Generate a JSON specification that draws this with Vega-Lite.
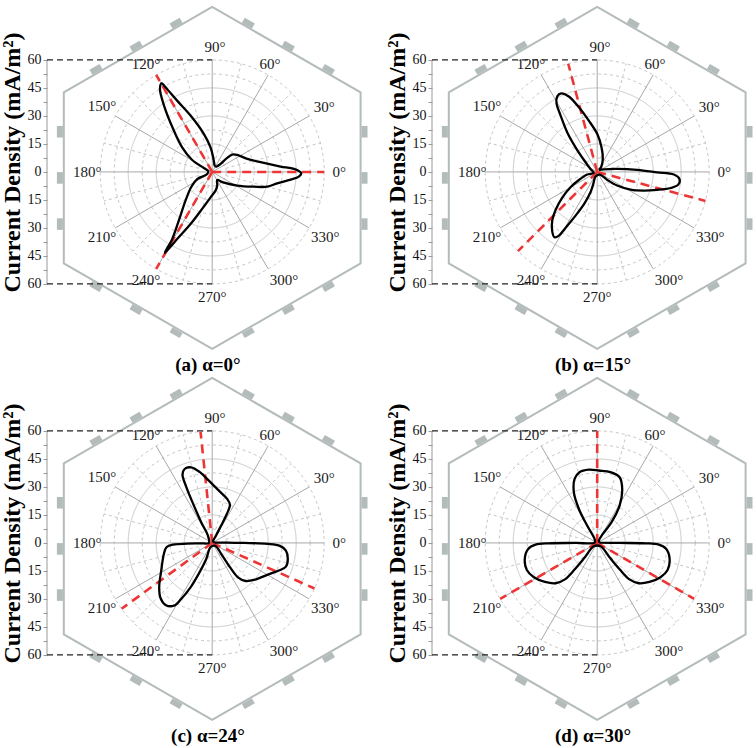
{
"$schema":"https://vega.github.io/schema/vega-lite/v6.json",
"padding":{"left":0,"top":2,"right":0,"bottom":0},
"background":"white",
"datasets":{
"hex":[{"i":0,"x":-79.5,"y":-3.2},{"i":1,"x":-79.5,"y":42.6},{"i":2,"x":0,"y":88.4},{"i":3,"x":79.5,"y":42.6},{"i":4,"x":79.5,"y":-49},{"i":5,"x":0,"y":-94.8},{"i":6,"x":-79.5,"y":-49},{"i":7,"x":-79.5,"y":-3.2}],
"elec":[{"x":16.64,"y":81.24,"x2":22.02,"y2":78.14},{"x":38.11,"y":68.87,"x2":43.49,"y2":65.77},{"x":59.58,"y":56.5,"x2":64.96,"y2":53.4},
{"x":81.6,"y":24.63,"x2":81.6,"y2":18.43},{"x":81.6,"y":-0.1,"x2":81.6,"y2":-6.3},{"x":81.6,"y":-24.83,"x2":81.6,"y2":-31.03},
{"x":64.96,"y":-59.8,"x2":59.58,"y2":-62.9},{"x":43.49,"y":-72.17,"x2":38.11,"y2":-75.27},{"x":22.02,"y":-84.54,"x2":16.64,"y2":-87.64},
{"x":-64.96,"y":-59.8,"x2":-59.58,"y2":-62.9},{"x":-43.49,"y":-72.17,"x2":-38.11,"y2":-75.27},{"x":-22.02,"y":-84.54,"x2":-16.64,"y2":-87.64},
{"x":-81.6,"y":24.63,"x2":-81.6,"y2":18.43},{"x":-81.6,"y":-0.1,"x2":-81.6,"y2":-6.3},{"x":-81.6,"y":-24.83,"x2":-81.6,"y2":-31.03},
{"x":-16.64,"y":81.24,"x2":-22.02,"y2":78.14},{"x":-38.11,"y":68.87,"x2":-43.49,"y2":65.77},{"x":-59.58,"y":56.5,"x2":-64.96,"y2":53.4}],
"circles":[{"x":0,"y":0,"r":7.5,"k":"d"},{"x":0,"y":0,"r":15,"k":"s"},{"x":0,"y":0,"r":22.5,"k":"d"},{"x":0,"y":0,"r":30,"k":"s"},{"x":0,"y":0,"r":37.5,"k":"d"},{"x":0,"y":0,"r":45,"k":"s"},{"x":0,"y":0,"r":52.5,"k":"d"},{"x":0,"y":0,"r":60,"k":"d"}],
"spokes":[{"x":60,"y":0,"x2":-60,"y2":0},{"x":51.96,"y":30,"x2":-51.96,"y2":-30},{"x":30,"y":51.96,"x2":-30,"y2":-51.96},{"x":0,"y":60,"x2":0,"y2":-60},{"x":-30,"y":51.96,"x2":30,"y2":-51.96},{"x":-51.96,"y":30,"x2":51.96,"y2":-30}],
"minor":[{"x":7.24,"y":1.94,"x2":57.96,"y2":15.53},{"x":5.3,"y":5.3,"x2":42.43,"y2":42.43},{"x":1.94,"y":7.24,"x2":15.53,"y2":57.96},{"x":-1.94,"y":7.24,"x2":-15.53,"y2":57.96},{"x":-5.3,"y":5.3,"x2":-42.43,"y2":42.43},{"x":-7.24,"y":1.94,"x2":-57.96,"y2":15.53},{"x":-7.24,"y":-1.94,"x2":-57.96,"y2":-15.53},{"x":-5.3,"y":-5.3,"x2":-42.43,"y2":-42.43},{"x":-1.94,"y":-7.24,"x2":-15.53,"y2":-57.96},{"x":1.94,"y":-7.24,"x2":15.53,"y2":-57.96},{"x":5.3,"y":-5.3,"x2":42.43,"y2":-42.43},{"x":7.24,"y":-1.94,"x2":57.96,"y2":-15.53}],
"axisline":[{"x":-88.5,"y":-60,"x2":-88.5,"y2":60}],
"dash":[{"x":-88.5,"y":60,"x2":0,"y2":60},{"x":-88.5,"y":-60,"x2":0,"y2":-60}],
"angles":[{"t":"0°","x":68,"y":0},{"t":"30°","x":60,"y":35},{"t":"60°","x":31,"y":58},{"t":"90°","x":1.5,"y":67},{"t":"120°","x":-35.5,"y":58},{"t":"150°","x":-59,"y":35.5},{"t":"180°","x":-67,"y":0},{"t":"210°","x":-59,"y":-35},{"t":"240°","x":-35.5,"y":-58},{"t":"270°","x":0,"y":-67},{"t":"300°","x":38.5,"y":-58},{"t":"330°","x":60.5,"y":-35}],
"red":[{"p":"a","x":0,"y":0,"x2":60,"y2":0},{"p":"a","x":0,"y":0,"x2":-30,"y2":51.96},{"p":"a","x":0,"y":0,"x2":-30,"y2":-51.96},
{"p":"b","x":0,"y":0,"x2":-15.53,"y2":57.96},{"p":"b","x":0,"y":0,"x2":-42.43,"y2":-42.43},{"p":"b","x":0,"y":0,"x2":57.96,"y2":-15.53},
{"p":"c","x":0,"y":0,"x2":-6.27,"y2":59.67},{"p":"c","x":0,"y":0,"x2":-48.54,"y2":-35.27},{"p":"c","x":0,"y":0,"x2":54.81,"y2":-24.4},
{"p":"d","x":0,"y":0,"x2":0,"y2":60},{"p":"d","x":0,"y":0,"x2":-51.96,"y2":-30},{"p":"d","x":0,"y":0,"x2":51.96,"y2":-30}],
"ca":[{"i":0,"x":1.3,"y":3.2},{"i":1,"x":0.5,"y":7.9},{"i":2,"x":-0.9,"y":13.2},{"i":3,"x":-4.5,"y":20.4},{"i":4,"x":-11.6,"y":30.2},{"i":5,"x":-18.8,"y":38.2},{"i":6,"x":-25,"y":45.4},{"i":7,"x":-27.1,"y":47.5},{"i":8,"x":-28,"y":44.5},{"i":9,"x":-25.5,"y":34.6},{"i":10,"x":-20.9,"y":23},{"i":11,"x":-16.1,"y":13.2},{"i":12,"x":-10.7,"y":6.4},{"i":13,"x":-4.5,"y":2.1},{"i":14,"x":-2.1,"y":0.4},{"i":15,"x":-3,"y":-1.4},{"i":16,"x":-8,"y":-3.8},{"i":17,"x":-11.3,"y":-8.2},{"i":18,"x":-14.3,"y":-15.4},{"i":19,"x":-17.9,"y":-26.1},{"i":20,"x":-21.4,"y":-35.9},{"i":21,"x":-25.4,"y":-43.4},{"i":22,"x":-18.8,"y":-35.9},{"i":23,"x":-11.6,"y":-27.9},{"i":24,"x":-5.4,"y":-19.8},{"i":25,"x":-0.9,"y":-13.6},{"i":26,"x":1.8,"y":-10},{"i":27,"x":2.7,"y":-7.3},{"i":28,"x":2.7,"y":-4.3},{"i":29,"x":5.4,"y":-5.5},{"i":30,"x":13.4,"y":-7.3},{"i":31,"x":22.3,"y":-7.9},{"i":32,"x":29.5,"y":-7.9},{"i":33,"x":34.8,"y":-6.1},{"i":34,"x":42,"y":-4.1},{"i":35,"x":46.4,"y":-2.5},{"i":36,"x":47.7,"y":-0.7},{"i":37,"x":43.8,"y":1.6},{"i":38,"x":36.6,"y":2.9},{"i":39,"x":25.9,"y":5.2},{"i":40,"x":18.8,"y":7},{"i":41,"x":13.4,"y":9.1},{"i":42,"x":10.7,"y":9.3},{"i":43,"x":8,"y":7.5},{"i":44,"x":4.5,"y":4.3},{"i":45,"x":2.3,"y":2.9},{"i":46,"x":1.3,"y":3.2}],
"cb":[{"i":0,"x":0.9,"y":1.1},{"i":1,"x":3.6,"y":1.4},{"i":2,"x":10.7,"y":1.6},{"i":3,"x":21.4,"y":1.1},{"i":4,"x":32.1,"y":-0.2},{"i":5,"x":41.1,"y":-1.4},{"i":6,"x":44.1,"y":-3.8},{"i":7,"x":43.4,"y":-6.8},{"i":8,"x":39.3,"y":-8.6},{"i":9,"x":32.1,"y":-9.6},{"i":10,"x":25,"y":-10},{"i":11,"x":17.9,"y":-9.5},{"i":12,"x":10.7,"y":-7.3},{"i":13,"x":5.4,"y":-4.3},{"i":14,"x":1.4,"y":-1.4},{"i":15,"x":-0.9,"y":-2.5},{"i":16,"x":-2.1,"y":-6.4},{"i":17,"x":-3.6,"y":-10.9},{"i":18,"x":-6.8,"y":-16.8},{"i":19,"x":-11.6,"y":-23.4},{"i":20,"x":-17,"y":-30},{"i":21,"x":-20.5,"y":-34.1},{"i":22,"x":-22.9,"y":-35},{"i":23,"x":-24.1,"y":-31.8},{"i":24,"x":-24.1,"y":-26.1},{"i":25,"x":-22.3,"y":-20.4},{"i":26,"x":-18.8,"y":-13.9},{"i":27,"x":-14.3,"y":-8.2},{"i":28,"x":-9.8,"y":-4.3},{"i":29,"x":-5.4,"y":-1.4},{"i":30,"x":-1.8,"y":-0.5},{"i":31,"x":-3.6,"y":1.6},{"i":32,"x":-7.1,"y":6.4},{"i":33,"x":-11.6,"y":13.2},{"i":34,"x":-16.1,"y":21.3},{"i":35,"x":-19.6,"y":30.2},{"i":36,"x":-21.8,"y":36.8},{"i":37,"x":-21.4,"y":40.5},{"i":38,"x":-19.3,"y":42.1},{"i":39,"x":-15.2,"y":40.4},{"i":40,"x":-9.8,"y":34.6},{"i":41,"x":-4.5,"y":27.5},{"i":42,"x":0,"y":20.4},{"i":43,"x":2.3,"y":13.2},{"i":44,"x":3,"y":7},{"i":45,"x":2.1,"y":2.5},{"i":46,"x":0.9,"y":1.1}],
"cc":[{"i":0,"x":1.3,"y":0.2},{"i":1,"x":8,"y":0.2},{"i":2,"x":17,"y":0},{"i":3,"x":29.5,"y":-0.5},{"i":4,"x":36.3,"y":-1.6},{"i":5,"x":39.5,"y":-4.1},{"i":6,"x":40.5,"y":-8.6},{"i":7,"x":39.5,"y":-12.7},{"i":8,"x":35.7,"y":-14.8},{"i":9,"x":29.5,"y":-17.1},{"i":10,"x":23.2,"y":-19.6},{"i":11,"x":17.9,"y":-20.4},{"i":12,"x":13.8,"y":-18.4},{"i":13,"x":9.8,"y":-13.4},{"i":14,"x":5.4,"y":-6.8},{"i":15,"x":1.6,"y":-1.6},{"i":16,"x":-0.9,"y":-2.3},{"i":17,"x":-3.2,"y":-8.6},{"i":18,"x":-7.1,"y":-16.3},{"i":19,"x":-11.6,"y":-23.8},{"i":20,"x":-16.6,"y":-30},{"i":21,"x":-20.5,"y":-33.6},{"i":22,"x":-25,"y":-33.2},{"i":23,"x":-27.7,"y":-29.5},{"i":24,"x":-28.4,"y":-23.8},{"i":25,"x":-27.3,"y":-14.8},{"i":26,"x":-25.9,"y":-5.9},{"i":27,"x":-24.5,"y":-2.3},{"i":28,"x":-20.9,"y":-0.9},{"i":29,"x":-13.4,"y":-0.4},{"i":30,"x":-6.3,"y":-0.2},{"i":31,"x":-1.8,"y":0},{"i":32,"x":-2.3,"y":3.9},{"i":33,"x":-5.9,"y":11.1},{"i":34,"x":-9.8,"y":20},{"i":35,"x":-13.8,"y":29.8},{"i":36,"x":-15.9,"y":36.6},{"i":37,"x":-14.8,"y":39.6},{"i":38,"x":-11.3,"y":40.5},{"i":39,"x":-6.6,"y":37.9},{"i":40,"x":-1.8,"y":33.4},{"i":41,"x":3.6,"y":28},{"i":42,"x":8,"y":23.6},{"i":43,"x":9.5,"y":20.5},{"i":44,"x":7.7,"y":15.2},{"i":45,"x":4.8,"y":9.3},{"i":46,"x":2,"y":3.9},{"i":47,"x":0.5,"y":0.9},{"i":48,"x":1.3,"y":0.2}],
"cd":[{"i":0,"x":1.3,"y":0.2},{"i":1,"x":11.6,"y":0},{"i":2,"x":25.9,"y":-0.2},{"i":3,"x":33,"y":-0.9},{"i":4,"x":37,"y":-3.2},{"i":5,"x":38.8,"y":-8.6},{"i":6,"x":37.7,"y":-14.5},{"i":7,"x":33.9,"y":-18.4},{"i":8,"x":28,"y":-20.9},{"i":9,"x":22.3,"y":-21.6},{"i":10,"x":17.3,"y":-19.5},{"i":11,"x":12,"y":-14.1},{"i":12,"x":6.6,"y":-7.7},{"i":13,"x":1.8,"y":-1.8},{"i":14,"x":-1.8,"y":-1.8},{"i":15,"x":-6.6,"y":-7.7},{"i":16,"x":-12,"y":-14.1},{"i":17,"x":-17.3,"y":-19.5},{"i":18,"x":-22.3,"y":-21.6},{"i":19,"x":-28,"y":-20.9},{"i":20,"x":-33.9,"y":-18.4},{"i":21,"x":-37.7,"y":-14.5},{"i":22,"x":-38.8,"y":-8.6},{"i":23,"x":-37,"y":-3.2},{"i":24,"x":-33,"y":-0.9},{"i":25,"x":-25.9,"y":-0.2},{"i":26,"x":-11.6,"y":0},{"i":27,"x":-1.3,"y":0.2},{"i":28,"x":-1.4,"y":2.1},{"i":29,"x":-5.4,"y":9.3},{"i":30,"x":-9.8,"y":18.2},{"i":31,"x":-12.5,"y":27.1},{"i":32,"x":-12.1,"y":34.3},{"i":33,"x":-9.5,"y":37.9},{"i":34,"x":-4.5,"y":39.3},{"i":35,"x":0.9,"y":38.8},{"i":36,"x":7.1,"y":37.9},{"i":37,"x":12,"y":35.2},{"i":38,"x":13.4,"y":28.9},{"i":39,"x":12,"y":20},{"i":40,"x":7.7,"y":11.1},{"i":41,"x":3,"y":4.8},{"i":42,"x":0.9,"y":1.3},{"i":43,"x":1.3,"y":0.2}]
},
"columns":2,
"spacing":{"row":27,"column":63},
"bounds":"flush",
"concat":[
{"width":322,"height":344,"title":{"text":"(a) α=0°","orient":"bottom","offset":3},
"encoding":{"x":{"field":"x","type":"quantitative","scale":{"domain":[-88.5,84],"nice":false,"zero":false},"axis":null},"y":{"field":"y","type":"quantitative","scale":{"domain":[-95.4,88.9],"nice":false,"zero":false},"axis":{"values":[-60,-52.5,-45,-37.5,-30,-22.5,-15,-7.5,0,7.5,15,22.5,30,37.5,45,52.5,60],"labelExpr":"datum.value % 15 === 0 ? format(abs(datum.value), 'd') : ''","tickSize":4,"tickColor":"#999999","domain":false,"grid":false,"labelOverlap":false,"labelFont":"Liberation Serif","labelFontSize":14,"labelColor":"#111111","labelPadding":2,"title":"Current Density (mA/m²)","titleFont":"Liberation Serif","titleFontSize":24,"titleFontWeight":"bold","titleColor":"#000000","titlePadding":3,"titleY":156}}},
"layer":[
{"data":{"name":"circles"},"mark":{"type":"point","shape":"circle","filled":false,"stroke":"#c6c6c6","strokeWidth":1,"opacity":1},"encoding":{"size":{"field":"r","type":"quantitative","scale":{"type":"pow","exponent":2,"domain":[0,60],"range":[0,50176],"zero":true},"legend":null},"strokeDash":{"field":"k","type":"nominal","scale":{"domain":["s","d"],"range":[[1,0],[3,3]]},"legend":null}}},
{"data":{"name":"minor"},"mark":{"type":"rule","stroke":"#c6c6c6","strokeWidth":1,"strokeDash":[3,3]},"encoding":{"x2":{"field":"x2"},"y2":{"field":"y2"}}},
{"data":{"name":"spokes"},"mark":{"type":"rule","stroke":"#a8a8a8","strokeWidth":1},"encoding":{"x2":{"field":"x2"},"y2":{"field":"y2"}}},
{"data":{"name":"hex"},"mark":{"type":"line","stroke":"#b3bbbb","strokeWidth":2},"encoding":{"order":{"field":"i"}}},
{"data":{"name":"elec"},"mark":{"type":"rule","stroke":"#b3bbbb","strokeWidth":6},"encoding":{"x2":{"field":"x2"},"y2":{"field":"y2"}}},
{"data":{"name":"axisline"},"mark":{"type":"rule","stroke":"#999999","strokeWidth":1},"encoding":{"x2":{"field":"x2"},"y2":{"field":"y2"}}},
{"data":{"name":"dash"},"mark":{"type":"rule","stroke":"#222222","strokeWidth":1.3,"strokeDash":[6,4]},"encoding":{"x2":{"field":"x2"},"y2":{"field":"y2"}}},
{"data":{"name":"angles"},"mark":{"type":"text","font":"Liberation Serif","fontSize":15,"color":"#1a1a1a","align":"center","baseline":"middle"},"encoding":{"text":{"field":"t"}}},
{"data":{"name":"red"},"transform":[{"filter":"datum.p == 'a'"}],"mark":{"type":"rule","stroke":"#ee3535","strokeWidth":2.6,"strokeDash":[9,6]},"encoding":{"x2":{"field":"x2"},"y2":{"field":"y2"}}},
{"data":{"name":"ca"},"mark":{"type":"line","stroke":"#000000","strokeWidth":2.3,"interpolate":"catmull-rom"},"encoding":{"order":{"field":"i"}}}
]},
{"width":322,"height":344,"title":{"text":"(b) α=15°","orient":"bottom","offset":3},
"encoding":{"x":{"field":"x","type":"quantitative","scale":{"domain":[-88.5,84],"nice":false,"zero":false},"axis":null},"y":{"field":"y","type":"quantitative","scale":{"domain":[-95.4,88.9],"nice":false,"zero":false},"axis":{"values":[-60,-52.5,-45,-37.5,-30,-22.5,-15,-7.5,0,7.5,15,22.5,30,37.5,45,52.5,60],"labelExpr":"datum.value % 15 === 0 ? format(abs(datum.value), 'd') : ''","tickSize":4,"tickColor":"#999999","domain":false,"grid":false,"labelOverlap":false,"labelFont":"Liberation Serif","labelFontSize":14,"labelColor":"#111111","labelPadding":2,"title":"Current Density (mA/m²)","titleFont":"Liberation Serif","titleFontSize":24,"titleFontWeight":"bold","titleColor":"#000000","titlePadding":3,"titleY":156}}},
"layer":[
{"data":{"name":"circles"},"mark":{"type":"point","shape":"circle","filled":false,"stroke":"#c6c6c6","strokeWidth":1,"opacity":1},"encoding":{"size":{"field":"r","type":"quantitative","scale":{"type":"pow","exponent":2,"domain":[0,60],"range":[0,50176],"zero":true},"legend":null},"strokeDash":{"field":"k","type":"nominal","scale":{"domain":["s","d"],"range":[[1,0],[3,3]]},"legend":null}}},
{"data":{"name":"minor"},"mark":{"type":"rule","stroke":"#c6c6c6","strokeWidth":1,"strokeDash":[3,3]},"encoding":{"x2":{"field":"x2"},"y2":{"field":"y2"}}},
{"data":{"name":"spokes"},"mark":{"type":"rule","stroke":"#a8a8a8","strokeWidth":1},"encoding":{"x2":{"field":"x2"},"y2":{"field":"y2"}}},
{"data":{"name":"hex"},"mark":{"type":"line","stroke":"#b3bbbb","strokeWidth":2},"encoding":{"order":{"field":"i"}}},
{"data":{"name":"elec"},"mark":{"type":"rule","stroke":"#b3bbbb","strokeWidth":6},"encoding":{"x2":{"field":"x2"},"y2":{"field":"y2"}}},
{"data":{"name":"axisline"},"mark":{"type":"rule","stroke":"#999999","strokeWidth":1},"encoding":{"x2":{"field":"x2"},"y2":{"field":"y2"}}},
{"data":{"name":"dash"},"mark":{"type":"rule","stroke":"#222222","strokeWidth":1.3,"strokeDash":[6,4]},"encoding":{"x2":{"field":"x2"},"y2":{"field":"y2"}}},
{"data":{"name":"angles"},"mark":{"type":"text","font":"Liberation Serif","fontSize":15,"color":"#1a1a1a","align":"center","baseline":"middle"},"encoding":{"text":{"field":"t"}}},
{"data":{"name":"red"},"transform":[{"filter":"datum.p == 'b'"}],"mark":{"type":"rule","stroke":"#ee3535","strokeWidth":2.6,"strokeDash":[9,6]},"encoding":{"x2":{"field":"x2"},"y2":{"field":"y2"}}},
{"data":{"name":"cb"},"mark":{"type":"line","stroke":"#000000","strokeWidth":2.3,"interpolate":"catmull-rom"},"encoding":{"order":{"field":"i"}}}
]},
{"width":322,"height":344,"title":{"text":"(c) α=24°","orient":"bottom","offset":3},
"encoding":{"x":{"field":"x","type":"quantitative","scale":{"domain":[-88.5,84],"nice":false,"zero":false},"axis":null},"y":{"field":"y","type":"quantitative","scale":{"domain":[-95.4,88.9],"nice":false,"zero":false},"axis":{"values":[-60,-52.5,-45,-37.5,-30,-22.5,-15,-7.5,0,7.5,15,22.5,30,37.5,45,52.5,60],"labelExpr":"datum.value % 15 === 0 ? format(abs(datum.value), 'd') : ''","tickSize":4,"tickColor":"#999999","domain":false,"grid":false,"labelOverlap":false,"labelFont":"Liberation Serif","labelFontSize":14,"labelColor":"#111111","labelPadding":2,"title":"Current Density (mA/m²)","titleFont":"Liberation Serif","titleFontSize":24,"titleFontWeight":"bold","titleColor":"#000000","titlePadding":3,"titleY":156}}},
"layer":[
{"data":{"name":"circles"},"mark":{"type":"point","shape":"circle","filled":false,"stroke":"#c6c6c6","strokeWidth":1,"opacity":1},"encoding":{"size":{"field":"r","type":"quantitative","scale":{"type":"pow","exponent":2,"domain":[0,60],"range":[0,50176],"zero":true},"legend":null},"strokeDash":{"field":"k","type":"nominal","scale":{"domain":["s","d"],"range":[[1,0],[3,3]]},"legend":null}}},
{"data":{"name":"minor"},"mark":{"type":"rule","stroke":"#c6c6c6","strokeWidth":1,"strokeDash":[3,3]},"encoding":{"x2":{"field":"x2"},"y2":{"field":"y2"}}},
{"data":{"name":"spokes"},"mark":{"type":"rule","stroke":"#a8a8a8","strokeWidth":1},"encoding":{"x2":{"field":"x2"},"y2":{"field":"y2"}}},
{"data":{"name":"hex"},"mark":{"type":"line","stroke":"#b3bbbb","strokeWidth":2},"encoding":{"order":{"field":"i"}}},
{"data":{"name":"elec"},"mark":{"type":"rule","stroke":"#b3bbbb","strokeWidth":6},"encoding":{"x2":{"field":"x2"},"y2":{"field":"y2"}}},
{"data":{"name":"axisline"},"mark":{"type":"rule","stroke":"#999999","strokeWidth":1},"encoding":{"x2":{"field":"x2"},"y2":{"field":"y2"}}},
{"data":{"name":"dash"},"mark":{"type":"rule","stroke":"#222222","strokeWidth":1.3,"strokeDash":[6,4]},"encoding":{"x2":{"field":"x2"},"y2":{"field":"y2"}}},
{"data":{"name":"angles"},"mark":{"type":"text","font":"Liberation Serif","fontSize":15,"color":"#1a1a1a","align":"center","baseline":"middle"},"encoding":{"text":{"field":"t"}}},
{"data":{"name":"red"},"transform":[{"filter":"datum.p == 'c'"}],"mark":{"type":"rule","stroke":"#ee3535","strokeWidth":2.6,"strokeDash":[9,6]},"encoding":{"x2":{"field":"x2"},"y2":{"field":"y2"}}},
{"data":{"name":"cc"},"mark":{"type":"line","stroke":"#000000","strokeWidth":2.3,"interpolate":"catmull-rom"},"encoding":{"order":{"field":"i"}}}
]},
{"width":322,"height":344,"title":{"text":"(d) α=30°","orient":"bottom","offset":3},
"encoding":{"x":{"field":"x","type":"quantitative","scale":{"domain":[-88.5,84],"nice":false,"zero":false},"axis":null},"y":{"field":"y","type":"quantitative","scale":{"domain":[-95.4,88.9],"nice":false,"zero":false},"axis":{"values":[-60,-52.5,-45,-37.5,-30,-22.5,-15,-7.5,0,7.5,15,22.5,30,37.5,45,52.5,60],"labelExpr":"datum.value % 15 === 0 ? format(abs(datum.value), 'd') : ''","tickSize":4,"tickColor":"#999999","domain":false,"grid":false,"labelOverlap":false,"labelFont":"Liberation Serif","labelFontSize":14,"labelColor":"#111111","labelPadding":2,"title":"Current Density (mA/m²)","titleFont":"Liberation Serif","titleFontSize":24,"titleFontWeight":"bold","titleColor":"#000000","titlePadding":3,"titleY":156}}},
"layer":[
{"data":{"name":"circles"},"mark":{"type":"point","shape":"circle","filled":false,"stroke":"#c6c6c6","strokeWidth":1,"opacity":1},"encoding":{"size":{"field":"r","type":"quantitative","scale":{"type":"pow","exponent":2,"domain":[0,60],"range":[0,50176],"zero":true},"legend":null},"strokeDash":{"field":"k","type":"nominal","scale":{"domain":["s","d"],"range":[[1,0],[3,3]]},"legend":null}}},
{"data":{"name":"minor"},"mark":{"type":"rule","stroke":"#c6c6c6","strokeWidth":1,"strokeDash":[3,3]},"encoding":{"x2":{"field":"x2"},"y2":{"field":"y2"}}},
{"data":{"name":"spokes"},"mark":{"type":"rule","stroke":"#a8a8a8","strokeWidth":1},"encoding":{"x2":{"field":"x2"},"y2":{"field":"y2"}}},
{"data":{"name":"hex"},"mark":{"type":"line","stroke":"#b3bbbb","strokeWidth":2},"encoding":{"order":{"field":"i"}}},
{"data":{"name":"elec"},"mark":{"type":"rule","stroke":"#b3bbbb","strokeWidth":6},"encoding":{"x2":{"field":"x2"},"y2":{"field":"y2"}}},
{"data":{"name":"axisline"},"mark":{"type":"rule","stroke":"#999999","strokeWidth":1},"encoding":{"x2":{"field":"x2"},"y2":{"field":"y2"}}},
{"data":{"name":"dash"},"mark":{"type":"rule","stroke":"#222222","strokeWidth":1.3,"strokeDash":[6,4]},"encoding":{"x2":{"field":"x2"},"y2":{"field":"y2"}}},
{"data":{"name":"angles"},"mark":{"type":"text","font":"Liberation Serif","fontSize":15,"color":"#1a1a1a","align":"center","baseline":"middle"},"encoding":{"text":{"field":"t"}}},
{"data":{"name":"red"},"transform":[{"filter":"datum.p == 'd'"}],"mark":{"type":"rule","stroke":"#ee3535","strokeWidth":2.6,"strokeDash":[9,6]},"encoding":{"x2":{"field":"x2"},"y2":{"field":"y2"}}},
{"data":{"name":"cd"},"mark":{"type":"line","stroke":"#000000","strokeWidth":2.3,"interpolate":"catmull-rom"},"encoding":{"order":{"field":"i"}}}
]}
],
"config":{"view":{"stroke":null},"title":{"font":"Liberation Serif","fontSize":19,"fontWeight":"bold","color":"#000000"}}
}
